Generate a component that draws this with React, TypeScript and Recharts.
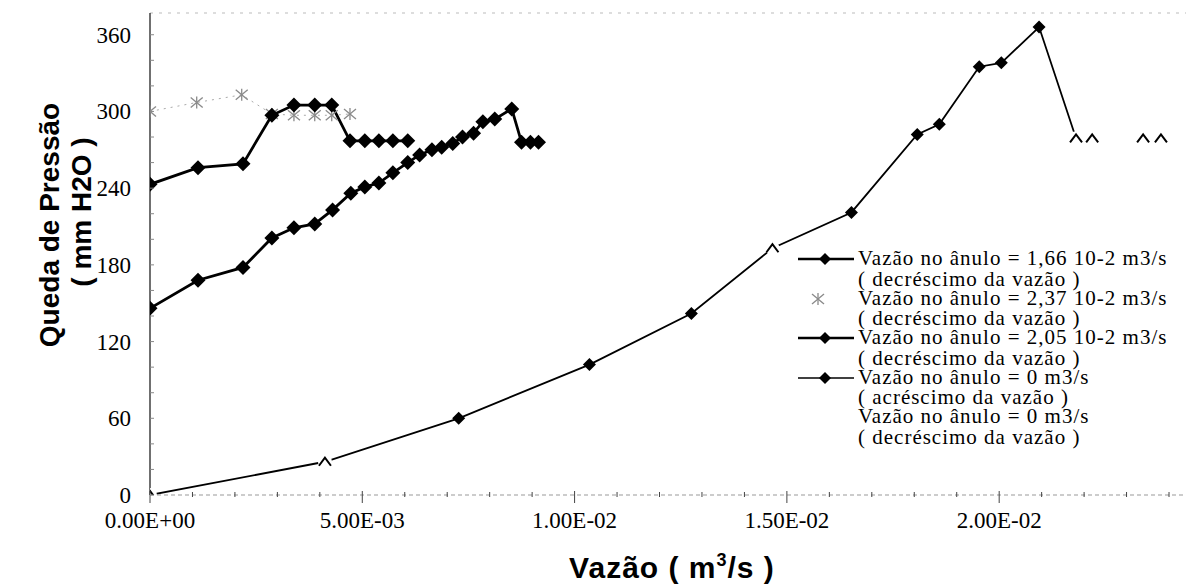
import { Label, Legend, Line, LineChart, ReferenceLine, XAxis, YAxis } from "recharts";

// vazão in units of 1e-3 m3/s, queda de pressão in mm H2O
const flow166 = [0, 1.13, 2.19, 2.87, 3.39, 3.88, 4.28, 4.71, 5.06, 5.39, 5.72, 6.07];
const dp166 = [243, 256, 259, 297, 305, 305, 305, 277, 277, 277, 277, 277];

const flow237 = [0, 1.1, 2.16, 2.87, 3.39, 3.88, 4.28, 4.71];
const dp237 = [300, 307, 313, 298, 297, 297, 297, 298];

const flow205 = [
  0, 1.13, 2.19, 2.87, 3.39, 3.88, 4.3, 4.73, 5.06, 5.39, 5.72, 6.07, 6.35, 6.64, 6.87, 7.13,
  7.36, 7.62, 7.84, 8.12, 8.52, 8.75, 8.96, 9.15,
];
const dp205 = [
  146, 168, 178, 201, 209, 212, 223, 236, 241, 244, 252, 260, 266, 270, 272, 275, 280, 283, 292,
  294, 302, 276, 276, 276,
];

const flow0up = [0, 4.12, 7.27, 10.35, 12.75, 14.66, 16.52, 18.07, 18.59, 19.53, 20.05, 20.94, 21.81];
const dp0up = [0, 26, 60, 102, 142, 193, 221, 282, 290, 335, 338, 366, 279];

const flow0down = [23.81, 23.39, 22.19, 21.81, 14.66, 4.12, 0];
const dp0down = [279, 279, 279, 279, 193, 26, 0];

const xTicks = [0, 0.005, 0.01, 0.015, 0.02];
const xMinorTicks = [
  0, 0.001, 0.002, 0.003, 0.004, 0.005, 0.006, 0.007, 0.008, 0.009, 0.01, 0.011, 0.012, 0.013,
  0.014, 0.015, 0.016, 0.017, 0.018, 0.019, 0.02, 0.021, 0.022, 0.023, 0.024,
];
const yTicks = [0, 60, 120, 180, 240, 300, 360];
const yMinorTicks = [0, 20, 40, 60, 80, 100, 120, 140, 160, 180, 200, 220, 240, 260, 280, 300, 320, 340, 360];

const legendLines = [
  ["Vazão no ânulo = 1,66 10-2 m3/s", "( decréscimo da vazão )"],
  ["Vazão no ânulo = 2,37 10-2 m3/s", "( decréscimo da vazão )"],
  ["Vazão no ânulo = 2,05 10-2 m3/s", "( decréscimo da vazão )"],
  ["Vazão no ânulo = 0 m3/s", "( acréscimo da vazão )"],
  ["Vazão no ânulo = 0 m3/s", "( decréscimo da vazão )"],
];

const toPoints = (xs: number[], ys: number[]) => xs.map((x, i) => ({ x: x / 1000, y: ys[i] }));

const serif = "'Liberation Serif', 'Times New Roman', serif";
const sans = "'Liberation Sans', Arial, sans-serif";

function fmtSci(v: number) {
  if (v === 0) return "0.00E+00";
  const e = Math.floor(Math.log10(v) + 1e-9);
  const m = v / Math.pow(10, e);
  const sign = e < 0 ? "-" : "+";
  return `${m.toFixed(2)}E${sign}${String(Math.abs(e)).padStart(2, "0")}`;
}

const Diamond = ({ cx, cy, r = 7.5 }: { cx: number; cy: number; r?: number }) => (
  <polygon points={`${cx},${cy - r} ${cx + r},${cy} ${cx},${cy + r} ${cx - r},${cy}`} fill="#000" />
);

const Star = ({ cx, cy }: { cx: number; cy: number }) => (
  <g stroke="#8a8a8a" strokeWidth={1.3}>
    <line x1={cx - 6} y1={cy - 5} x2={cx + 6} y2={cy + 5} />
    <line x1={cx - 6} y1={cy + 5} x2={cx + 6} y2={cy - 5} />
    <line x1={cx} y1={cy - 6} x2={cx} y2={cy + 6} />
  </g>
);

const Caret = ({ cx, cy }: { cx: number; cy: number }) => (
  <g>
    <circle cx={cx} cy={cy} r={7} fill="#fff" />
    <polyline
      points={`${cx - 6},${cy + 4} ${cx},${cy - 4} ${cx + 6},${cy + 4}`}
      fill="none"
      stroke="#000"
      strokeWidth={2}
    />
  </g>
);

const XTick = (props: any) => {
  const { x, y, payload } = props;
  const major = xTicks.some((t) => Math.abs(t - payload.value) < 1e-9);
  return (
    <g>
      <line x1={x} x2={x} y1={major ? y - 4 : y - 3} y2={major ? y + 8 : y + 2} stroke="#444" />
      {major && (
        <text x={x} y={y + 33} textAnchor="middle" fontFamily={serif} fontSize={23} fill="#000">
          {fmtSci(payload.value)}
        </text>
      )}
    </g>
  );
};

const YTick = (props: any) => {
  const { x, y, payload } = props;
  const major = yTicks.includes(payload.value);
  return (
    <g>
      <line x1={x} x2={x + 4} y1={y} y2={y} stroke="#888" />
      {major && (
        <text x={x - 19} y={y} dy="0.35em" textAnchor="end" fontFamily={serif} fontSize={23} fill="#000">
          {payload.value}
        </text>
      )}
    </g>
  );
};

const legendSymbols = [
  <g>
    <line x1={0} x2={56} y1={10} y2={10} stroke="#000" strokeWidth={2.5} />
    <Diamond cx={27} cy={10} r={6} />
  </g>,
  <Star cx={20} cy={10} />,
  <g>
    <line x1={0} x2={56} y1={10} y2={10} stroke="#000" strokeWidth={2.5} />
    <Diamond cx={27} cy={10} r={6} />
  </g>,
  <g>
    <line x1={0} x2={56} y1={10} y2={10} stroke="#000" strokeWidth={1.3} />
    <Diamond cx={27} cy={10} r={6} />
  </g>,
  null,
];

const LegendContent = () => (
  <div style={{ fontFamily: serif, fontSize: 21, letterSpacing: 1, color: "#000" }}>
    {legendLines.map((lines, i) => (
      <div key={i} style={{ position: "relative", height: 39.5 }}>
        <svg width={58} height={20} style={{ position: "absolute", left: 0, top: 1 }}>
          {legendSymbols[i]}
        </svg>
        <div style={{ position: "absolute", left: 60, top: 1, lineHeight: "18px", whiteSpace: "nowrap" }}>
          {lines[0]}
        </div>
        <div style={{ position: "absolute", left: 60, top: 21.5, lineHeight: "18px", whiteSpace: "nowrap" }}>
          {lines[1]}
        </div>
      </div>
    ))}
  </div>
);

const YTitle = () => (
  <g fontFamily={sans} fontWeight="bold" fontSize={28} fill="#000">
    <text x={59} y={225} textAnchor="middle" transform="rotate(-90 59 225)">
      Queda de Pressão
    </text>
    <text x={91} y={212} textAnchor="middle" transform="rotate(-90 91 212)">
      ( mm H2O )
    </text>
  </g>
);

const XTitle = () => (
  <text
    x={672}
    y={578}
    textAnchor="middle"
    fontFamily={sans}
    fontWeight="bold"
    fontSize={30}
    letterSpacing={1}
    fill="#000"
  >
    Vazão  ( m
    <tspan fontSize={18} dy={-12}>
      3
    </tspan>
    <tspan dy={12}>/s )</tspan>
  </text>
);

export default function App() {
  return (
    <div style={{ position: "absolute", left: 0, top: 0, background: "#fff" }}>
      <LineChart width={1186} height={588} margin={{ top: 13, right: 0, left: 90, bottom: 43 }}>
        <XAxis
          type="number"
          dataKey="x"
          domain={[0, 0.0244]}
          allowDataOverflow
          ticks={xMinorTicks}
          interval={0}
          tick={<XTick />}
          tickLine={false}
          tickSize={0}
          tickMargin={0}
          height={50}
          axisLine={{ stroke: "#999", strokeDasharray: "4 3" }}
        >
          <Label content={<XTitle />} />
        </XAxis>
        <YAxis
          type="number"
          domain={[0, 377]}
          allowDataOverflow
          ticks={yMinorTicks}
          interval={0}
          tick={<YTick />}
          tickLine={false}
          tickSize={0}
          tickMargin={0}
          width={60}
          axisLine={{ stroke: "#222", strokeWidth: 1.3 }}
        >
          <Label content={<YTitle />} />
        </YAxis>
        <ReferenceLine y={377} stroke="#bbb" strokeDasharray="3 6" />
        <Line
          data={toPoints(flow237, dp237)}
          dataKey="y"
          stroke="#aaa"
          strokeWidth={1}
          strokeDasharray="2 5"
          dot={(p: any) => <Star key={p.index} cx={p.cx} cy={p.cy} />}
          isAnimationActive={false}
        />
        <Line
          data={toPoints(flow166, dp166)}
          dataKey="y"
          stroke="#000"
          strokeWidth={2.8}
          dot={(p: any) => <Diamond key={p.index} cx={p.cx} cy={p.cy} />}
          isAnimationActive={false}
        />
        <Line
          data={toPoints(flow205, dp205)}
          dataKey="y"
          stroke="#000"
          strokeWidth={2.8}
          dot={(p: any) => <Diamond key={p.index} cx={p.cx} cy={p.cy} />}
          isAnimationActive={false}
        />
        <Line
          data={toPoints(flow0up, dp0up)}
          dataKey="y"
          stroke="#000"
          strokeWidth={1.8}
          dot={(p: any) => <Diamond key={p.index} cx={p.cx} cy={p.cy} r={6.5} />}
          isAnimationActive={false}
        />
        <Line
          data={toPoints(flow0down, dp0down)}
          dataKey="y"
          stroke="none"
          dot={(p: any) => <Caret key={p.index} cx={p.cx} cy={p.cy} />}
          isAnimationActive={false}
        />
        <Legend
          content={<LegendContent />}
          layout="vertical"
          align="center"
          verticalAlign="middle"
          wrapperStyle={{ position: "absolute", left: 798, top: 248, width: 390, background: "#fff" }}
        />
      </LineChart>
    </div>
  );
}
